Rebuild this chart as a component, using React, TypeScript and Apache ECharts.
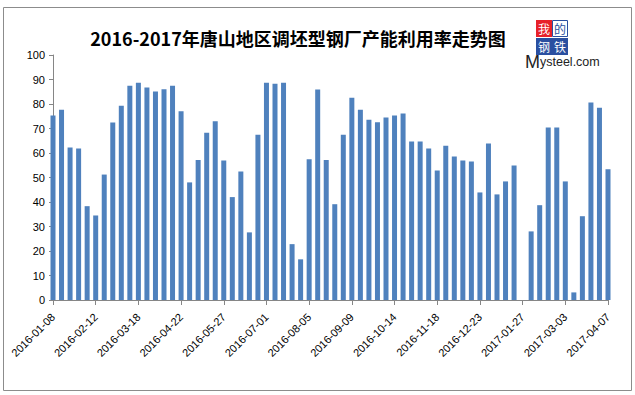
import React, { useEffect, useRef } from "react";
import * as echarts from "echarts";

const titleText = "2016-2017年唐山地区调坯型钢厂产能利用率走势图";

const categories = [
  "2016-01-08","2016-01-15","2016-01-22","2016-01-29","2016-02-05","2016-02-12","2016-02-19","2016-02-26",
  "2016-03-04","2016-03-11","2016-03-18","2016-03-25","2016-04-01","2016-04-08","2016-04-15","2016-04-22",
  "2016-04-29","2016-05-06","2016-05-13","2016-05-20","2016-05-27","2016-06-03","2016-06-10","2016-06-17",
  "2016-06-24","2016-07-01","2016-07-08","2016-07-15","2016-07-22","2016-07-29","2016-08-05","2016-08-12",
  "2016-08-19","2016-08-26","2016-09-02","2016-09-09","2016-09-16","2016-09-23","2016-09-30","2016-10-07",
  "2016-10-14","2016-10-21","2016-10-28","2016-11-04","2016-11-11","2016-11-18","2016-11-25","2016-12-02",
  "2016-12-09","2016-12-16","2016-12-23","2016-12-30","2017-01-06","2017-01-13","2017-01-20","2017-01-27",
  "2017-02-03","2017-02-10","2017-02-17","2017-02-24","2017-03-03","2017-03-10","2017-03-17","2017-03-24",
  "2017-03-31","2017-04-07"
];

const utilization: (number | null)[] = [
  75.3, 77.7, 62.2, 61.8, 38.3, 34.5, 51.2, 72.4, 79.3, 87.5,
  88.7, 86.7, 85.1, 86.0, 87.5, 77.0, 48.0, 57.1, 68.3, 73.0,
  56.9, 42.0, 52.4, 27.6, 67.5, 88.7, 88.3, 88.7, 22.8, 16.6,
  57.5, 85.9, 57.1, 39.1, 67.5, 82.6, 77.7, 73.6, 72.6, 74.5,
  75.3, 76.1, 64.7, 64.7, 61.8, 52.9, 63.0, 58.6, 56.9, 56.5,
  43.9, 63.9, 43.1, 48.4, 54.9, null, 28.0, 38.7, 70.4, 70.4,
  48.4, 3.1, 34.2, 80.6, 78.5, 53.4
];

const yTicks = { min: 0, max: 100, interval: 10 };

export default function App() {
  const ref = useRef<HTMLDivElement>(null);
  useEffect(() => {
    document.body.style.margin = "0";
    if (!ref.current) return;
    const chart = echarts.init(ref.current, null, { renderer: "svg" });
    const logoChar = (ch: string, x: number, y: number, fill: string) => ({
      type: "text",
      x,
      y,
      style: { text: ch, fontSize: 12, lineHeight: 14, fontFamily: "Noto Sans CJK SC", fill, align: "center", verticalAlign: "middle" },
    });
    chart.setOption({
      animation: false,
      backgroundColor: "#ffffff",
      grid: { left: 53, right: 27, top: 55, bottom: 95, containLabel: false },
      xAxis: {
        type: "category",
        data: categories,
        boundaryGap: false,
        axisLine: { show: true, lineStyle: { color: "#868686", width: 1 } },
        axisTick: { show: true, interval: 4, length: 5, lineStyle: { color: "#868686" } },
        axisLabel: {
          interval: 4,
          rotate: 45,
          color: "#000",
          fontSize: 11,
          fontFamily: "Liberation Sans",
          margin: 15,
        },
        splitLine: { show: false },
      },
      yAxis: {
        type: "value",
        min: yTicks.min,
        max: yTicks.max,
        interval: yTicks.interval,
        axisLine: { show: true, lineStyle: { color: "#868686", width: 1 } },
        axisTick: { show: true, inside: false, length: 4, lineStyle: { color: "#868686" } },
        axisLabel: { color: "#000", fontSize: 11, fontFamily: "Liberation Sans", margin: 8 },
        splitLine: { show: false },
      },
      series: [
        {
          type: "bar",
          data: utilization,
          barWidth: 5,
          clip: true,
          itemStyle: { color: "#4F81BD" },
        },
      ],
      graphic: [
        {
          type: "rect",
          shape: { x: 3.5, y: 7.5, width: 628, height: 383 },
          style: { fill: "none", stroke: "#8c8c8c", lineWidth: 1 },
          silent: true,
        },
        {
          type: "text",
          x: 298,
          y: 38,
          style: {
            text: titleText,
            fontSize: 18,
            fontWeight: "bold",
            fontFamily: "Noto Sans CJK SC",
            fill: "#000",
            align: "center",
            verticalAlign: "middle",
          },
        },
        { type: "rect", shape: { x: 536, y: 20, width: 16, height: 17 }, style: { fill: "#e8202a" } },
        { type: "rect", shape: { x: 552.5, y: 20.5, width: 15, height: 16 }, style: { fill: "#ffffff", stroke: "#2a4fa0", lineWidth: 1 } },
        { type: "rect", shape: { x: 536, y: 38, width: 16, height: 17 }, style: { fill: "#2a4fa0" } },
        { type: "rect", shape: { x: 552, y: 38, width: 16, height: 17 }, style: { fill: "#2a4fa0" } },
        logoChar("我", 544, 28.5, "#fff"),
        logoChar("的", 560, 28.5, "#2a4fa0"),
        logoChar("钢", 544, 46.5, "#fff"),
        logoChar("铁", 560, 46.5, "#fff"),
        {
          type: "text",
          x: 525,
          y: 71,
          style: {
            text: "{m|M}{r|ysteel.com}",
            verticalAlign: "bottom",
            align: "left",
            rich: {
              m: { fontSize: 18, fontFamily: "Liberation Sans", fill: "#222", fontWeight: "normal" },
              r: { fontSize: 12.5, fontFamily: "Liberation Sans", fill: "#222" },
            },
          },
        },
      ],
    });
    return () => chart.dispose();
  }, []);
  return <div ref={ref} style={{ width: 635, height: 395 }} />;
}
